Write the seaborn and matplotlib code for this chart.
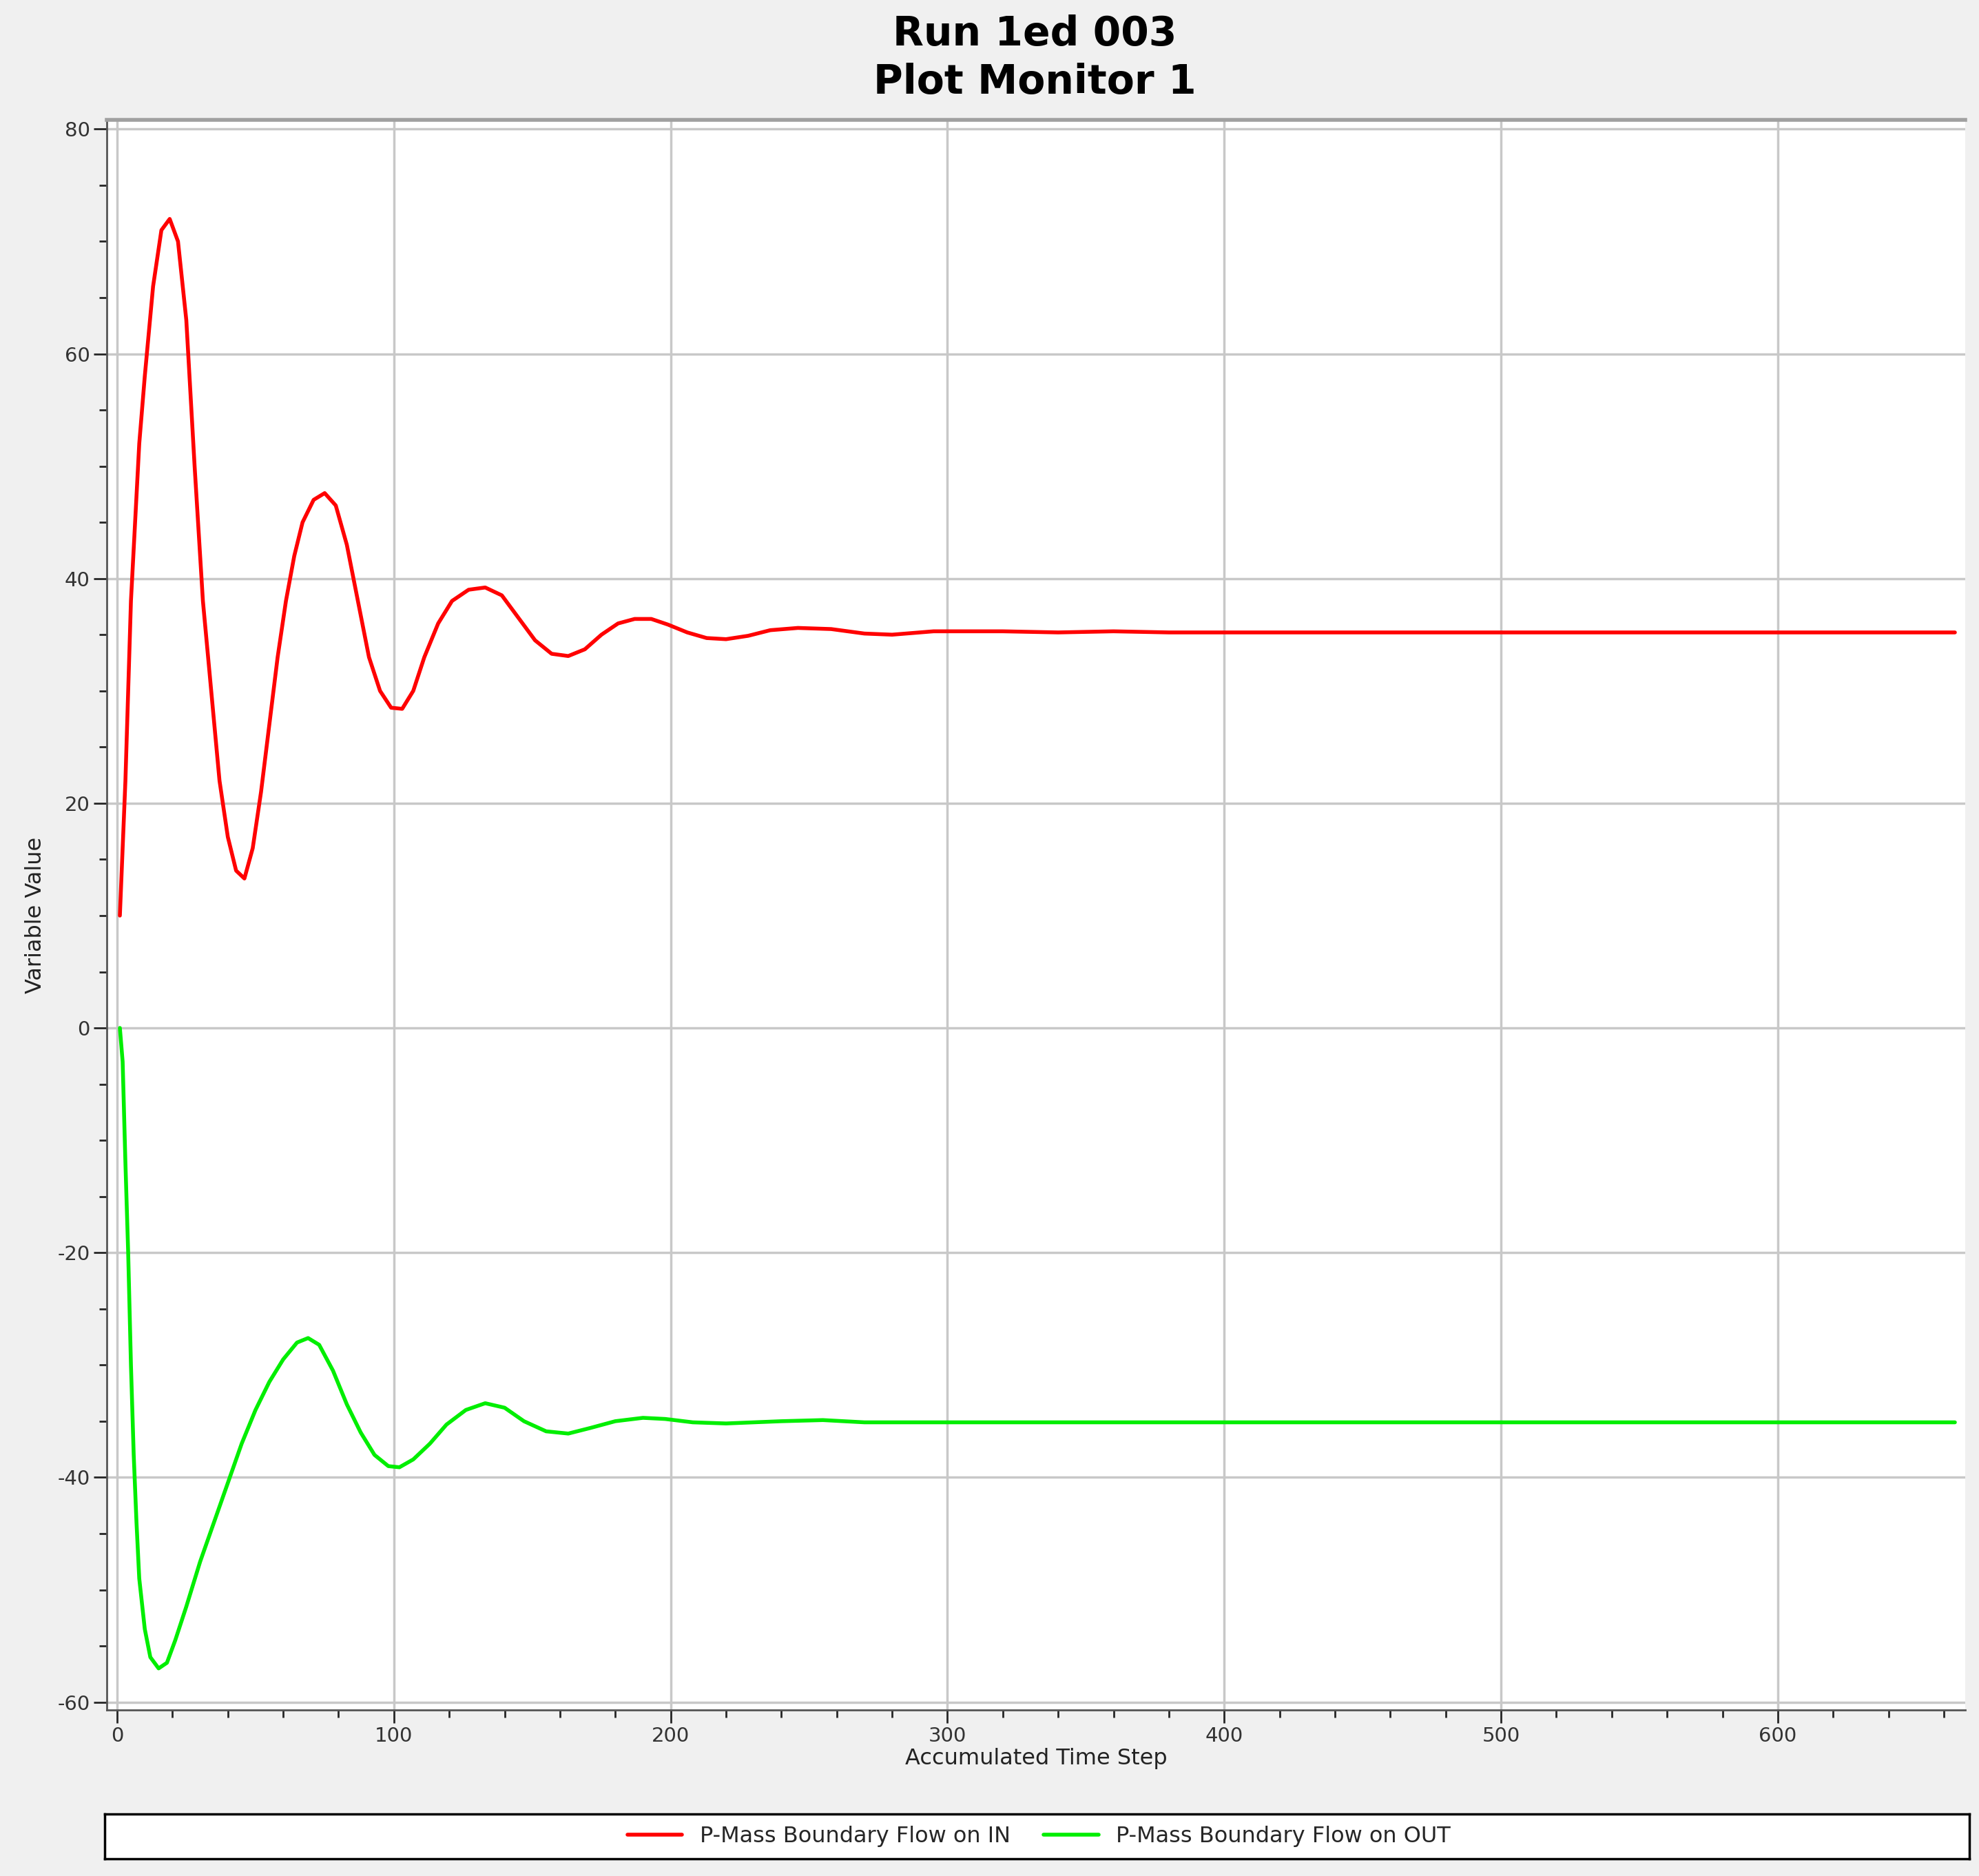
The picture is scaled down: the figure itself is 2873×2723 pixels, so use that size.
import numpy as np
import pandas as pd
import seaborn as sns
import matplotlib.pyplot as plt
from matplotlib.ticker import MultipleLocator
from matplotlib.lines import Line2D

# values
in_steps = [1, 3, 5, 8, 10, 13, 16, 19, 22, 25, 28, 31, 34, 37, 40, 43, 46, 49, 52, 55, 58, 61, 64, 67, 71, 75,
            79, 83, 87, 91, 95, 99, 103, 107, 111, 116, 121, 127, 133, 139, 145, 151, 157, 163, 169, 175, 181,
            187, 193, 199, 206, 213, 220, 228, 236, 246, 258, 270, 280, 295, 320, 340, 360, 380, 664]
in_flow = [10, 22, 38, 52, 58, 66, 71, 72, 70, 63, 50, 38, 30, 22, 17, 14, 13.3, 16, 21, 27, 33, 38, 42, 45, 47, 47.6,
           46.5, 43, 38, 33, 30, 28.5, 28.4, 30, 33, 36, 38, 39, 39.2, 38.5, 36.5, 34.5, 33.3, 33.1, 33.7, 35, 36,
           36.4, 36.4, 35.9, 35.2, 34.7, 34.6, 34.9, 35.4, 35.6, 35.5, 35.1, 35.0, 35.3, 35.3, 35.2, 35.3, 35.2, 35.2]

out_steps = [1, 2, 3, 4, 5, 6, 7, 8, 10, 12, 15, 18, 21, 25, 30, 35, 40, 45, 50, 55, 60, 65, 69, 73, 78, 83, 88,
             93, 98, 102, 107, 113, 119, 126, 133, 140, 147, 155, 163, 171, 180, 190, 198, 208, 220, 240, 255, 270, 664]
out_flow = [0, -3, -12, -20, -30, -38, -44, -49, -53.5, -56, -57, -56.5, -54.5, -51.5, -47.5, -44, -40.5, -37, -34,
            -31.5, -29.5, -28, -27.6, -28.2, -30.5, -33.5, -36, -38, -39, -39.1, -38.4, -37, -35.3, -34, -33.4,
            -33.8, -35, -35.9, -36.1, -35.6, -35, -34.7, -34.8, -35.1, -35.2, -35.0, -34.9, -35.1, -35.1]

labels = ["P-Mass Boundary Flow on IN", "P-Mass Boundary Flow on OUT"]
colors = ["#ff0000", "#00ee00"]

df = pd.concat([
    pd.DataFrame({"step": in_steps, "value": in_flow, "series": labels[0]}),
    pd.DataFrame({"step": out_steps, "value": out_flow, "series": labels[1]}),
])

sns.set_style("white")
plt.rcParams["axes.unicode_minus"] = False
fig = plt.figure(figsize=(28.73, 27.23), dpi=100, facecolor="#f0f0f0")
ax = fig.add_axes([0.054, 0.0885, 0.939, 0.8475])
ax.set_facecolor("white")

sns.lineplot(data=df, x="step", y="value", hue="series", palette=colors, linewidth=4,
             ax=ax, legend=False, sort=False)

ax.set_xlim(-3.7, 667.7)
ax.set_ylim(-60.7, 80.8)
ax.xaxis.set_major_locator(MultipleLocator(100))
ax.xaxis.set_minor_locator(MultipleLocator(20))
ax.yaxis.set_major_locator(MultipleLocator(20))
ax.yaxis.set_minor_locator(MultipleLocator(5))
ax.grid(True, which="major", color="#c8c8c8", linewidth=2.5)
ax.tick_params(which="major", direction="out", length=14, width=2, labelsize=21, labelcolor="#333333",
               left=True, bottom=True)
ax.tick_params(which="minor", direction="out", length=8, width=2, left=True, bottom=True)
for side in ["left", "bottom"]:
    ax.spines[side].set_color("#555555")
    ax.spines[side].set_linewidth(2)
ax.spines["top"].set_color("#a0a0a0")
ax.spines["top"].set_linewidth(4)
ax.spines["right"].set_visible(False)

ax.set_xlabel("Accumulated Time Step", fontsize=23, labelpad=2, color="#222222")
ax.set_ylabel("Variable Value", fontsize=23, labelpad=12, color="#222222")

fig.text(0.523, 0.982, "Run 1ed 003", ha="center", va="center", fontsize=42, fontweight="bold", color="black")
fig.text(0.523, 0.956, "Plot Monitor 1", ha="center", va="center", fontsize=42, fontweight="bold", color="black")

# legend strip at the bottom
handles = [Line2D([0], [0], color=c, linewidth=4) for c in colors]
fig.legend(handles, labels, loc="center", bbox_to_anchor=(0.525, 0.021, 0, 0), ncol=2,
           fontsize=23, frameon=False, handlelength=2.5, columnspacing=1.5)
lax = fig.add_axes([0.053, 0.009, 0.942, 0.024])
lax.set_xticks([])
lax.set_yticks([])
lax.set_facecolor("white")
lax.set_zorder(-1)
for s in lax.spines.values():
    s.set_color("black")
    s.set_linewidth(2.5)

fig.savefig("out.png", dpi=100, facecolor=fig.get_facecolor())
